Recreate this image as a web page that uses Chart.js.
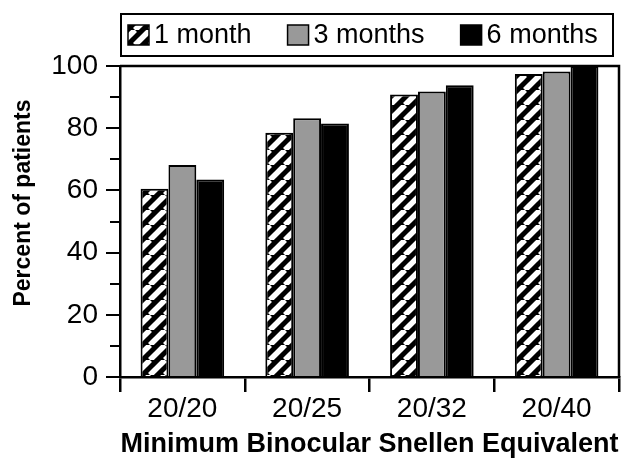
<!DOCTYPE html>
<html>
<head>
<meta charset="utf-8">
<style>
  html, body { margin: 0; padding: 0; background: #fff; }
  #wrap { width: 628px; height: 461px; }
</style>
<script src="https://cdn.jsdelivr.net/npm/chart.js@4"></script>
</head>
<body>
<div id="wrap"><canvas id="c" width="628" height="461"></canvas></div>
<script>
const CATEGORIES = ['20/20', '20/25', '20/32', '20/40'];
const SERIES = ['1 month', '3 months', '6 months'];
const ONE_MONTH = [60.5, 78.5, 90.8, 97.4];
const THREE_MONTHS = [68.2, 83.2, 91.8, 98.2];
const SIX_MONTHS = [63.5, 81.5, 93.8, 100];
const Y_MAJOR = [0, 20, 40, 60, 80, 100];
const Y_MINOR = [10, 30, 50, 70, 90];
const Y_TITLE = 'Percent of patients';

const FONT = '"Liberation Sans", Arial, sans-serif';
const INK = '#000';

// diagonal white-on-black hatch, "/" direction
function hatch() {
  const s = 15, t = document.createElement('canvas');
  t.width = s; t.height = s;
  const g = t.getContext('2d');
  g.fillStyle = '#000'; g.fillRect(0, 0, s, s);
  g.strokeStyle = '#fff'; g.lineWidth = 5.5;
  [-s, 0, s].forEach(o => { g.beginPath(); g.moveTo(o, s); g.lineTo(o + s, 0); g.stroke(); });
  return document.getElementById('c').getContext('2d').createPattern(t, 'repeat');
}
const FILLS = [hatch(), '#999999', '#000000'];

// top/right frame, minor y ticks, y title
const frame = {
  id: 'frame',
  afterDraw(chart) {
    const {ctx, chartArea: a} = chart, y = chart.scales.y;
    ctx.save();
    ctx.strokeStyle = INK; ctx.lineWidth = 2.5;
    ctx.beginPath();
    ctx.moveTo(a.left, a.top); ctx.lineTo(a.right, a.top); ctx.lineTo(a.right, a.bottom);
    ctx.stroke();
    ctx.lineWidth = 2;
    Y_MINOR.forEach(v => {
      const py = Math.round(y.getPixelForValue(v));
      ctx.beginPath(); ctx.moveTo(a.left - 10, py); ctx.lineTo(a.left, py); ctx.stroke();
    });
    ctx.translate(24, 203); ctx.rotate(-Math.PI / 2);
    ctx.font = 'bold 23px ' + FONT; ctx.fillStyle = INK;
    ctx.textAlign = 'center'; ctx.textBaseline = 'middle';
    ctx.fillText(Y_TITLE, 0, 0);
    ctx.restore();
  }
};

// boxed legend across the top
const boxLegend = {
  id: 'boxLegend',
  afterDraw(chart) {
    const ctx = chart.ctx;
    ctx.save();
    ctx.strokeStyle = INK; ctx.lineWidth = 2;
    ctx.strokeRect(121, 14, 492, 42);
    ctx.font = '27px ' + FONT; ctx.textBaseline = 'middle'; ctx.fillStyle = INK;
    let x = 128;
    chart.data.datasets.forEach(d => {
      ctx.fillStyle = d.backgroundColor;
      ctx.fillRect(x, 25, 21, 20);
      ctx.lineWidth = 1.5; ctx.strokeRect(x, 25, 21, 20);
      ctx.fillStyle = INK;
      ctx.fillText(d.label, x + 26, 36);
      x += 26 + ctx.measureText(d.label).width + 36;
    });
    ctx.restore();
  }
};

new Chart(document.getElementById('c'), {
  type: 'bar',
  data: {
    labels: CATEGORIES,
    datasets: [ONE_MONTH, THREE_MONTHS, SIX_MONTHS].map((d, i) => ({
      label: SERIES[i], data: d, backgroundColor: FILLS[i],
      borderColor: INK, borderWidth: 2,
      barPercentage: 1, categoryPercentage: 0.67
    }))
  },
  options: {
    responsive: false, animation: false,
    layout: {padding: {top: 66, right: 9, left: 0, bottom: 0}},
    plugins: {legend: {display: false}, tooltip: {enabled: false}},
    scales: {
      x: {
        afterFit: s => { s.height = 84; },
        grid: {offset: true, drawOnChartArea: false, tickLength: 15, color: INK, lineWidth: 2.5},
        border: {display: true, color: INK, width: 2.5},
        ticks: {color: INK, font: {family: FONT, size: 28}, padding: 0},
        title: {display: true, text: 'Minimum Binocular Snellen Equivalent', color: INK,
                font: {family: FONT, size: 27, weight: 'bold'}, padding: {top: 0, bottom: 0}}
      },
      y: {
        min: 0, max: 100,
        afterFit: s => { s.width = 120; },
        afterBuildTicks: s => { s.ticks = Y_MAJOR.map(v => ({value: v})); },
        grid: {drawOnChartArea: false, tickLength: 14, color: INK, lineWidth: 2},
        border: {display: true, color: INK, width: 2.5},
        ticks: {color: INK, font: {family: FONT, size: 28}, padding: 8}
      }
    }
  },
  plugins: [frame, boxLegend]
});
</script>
</body>
</html>
